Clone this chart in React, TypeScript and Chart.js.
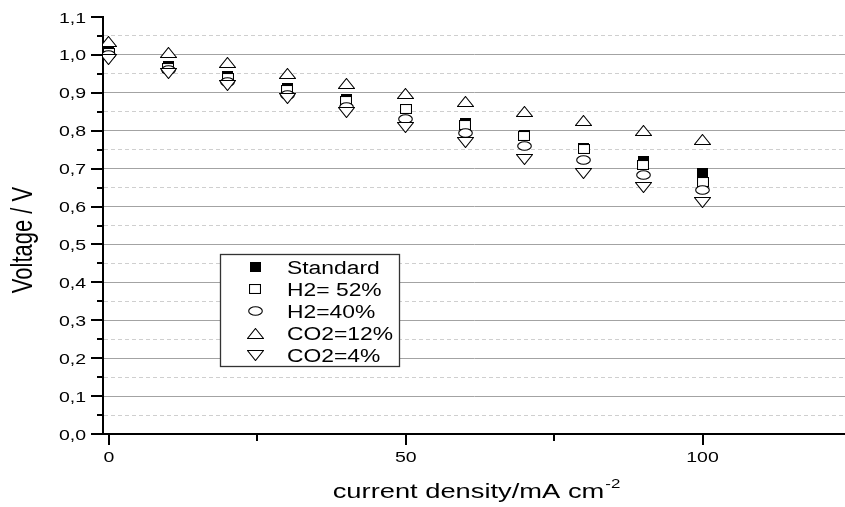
import React, { useEffect, useRef } from 'react';
import { Chart, registerables } from 'chart.js';

Chart.register(...registerables);

// ---- data ----
const X_VALUES = [0, 10, 20, 30, 40, 50, 60, 70, 80, 90, 100];
const STANDARD = [1.013, 0.970, 0.944, 0.914, 0.883, 0.857, 0.820, 0.789, 0.754, 0.720, 0.688];
const H2_52 = [1.006, 0.965, 0.938, 0.908, 0.878, 0.857, 0.815, 0.786, 0.752, 0.709, 0.666];
const H2_40 = [0.999, 0.960, 0.928, 0.895, 0.862, 0.830, 0.794, 0.760, 0.724, 0.684, 0.644];
const CO2_12 = [1.035, 1.006, 0.980, 0.952, 0.925, 0.899, 0.876, 0.850, 0.826, 0.800, 0.776];
const CO2_4 = [0.987, 0.951, 0.919, 0.885, 0.849, 0.809, 0.769, 0.725, 0.688, 0.650, 0.610];

const SERIES_LABELS = ['Standard', 'H2= 52%', 'H2=40%', 'CO2=12%', 'CO2=4%'];
const SERIES_VALUES = [STANDARD, H2_52, H2_40, CO2_12, CO2_4];
const SERIES_MARKERS = ['filledSquare', 'square', 'circle', 'triUp', 'triDown'];

const Y_TICK_LABELS = ['0,0', '0,1', '0,2', '0,3', '0,4', '0,5', '0,6', '0,7', '0,8', '0,9', '1,0', '1,1'];
const X_TICK_LABELS = ['0', '50', '100'];
const X_MINOR_TICKS = [25, 75];
const X_TITLE = 'current density/mA cm';
const X_TITLE_SUP = '-2';
const Y_TITLE = 'Voltage / V';

const FONT = '"Liberation Sans", Arial, Helvetica, sans-serif';
const SX = 1.3; // horizontal text stretch of the reference

function makeMarker(kind: string): HTMLCanvasElement {
  const c = document.createElement('canvas');
  let w = 12, h = 10;
  if (kind === 'filledSquare') { w = 11; h = 10; }
  if (kind === 'square') { w = 12; h = 10; }
  if (kind === 'circle') { w = 15; h = 10; }
  if (kind === 'triUp' || kind === 'triDown') { w = 17; h = 11; }
  c.width = w; c.height = h;
  const g = c.getContext('2d')!;
  g.lineWidth = 1.1;
  g.strokeStyle = '#000';
  g.fillStyle = '#fff';
  if (kind === 'filledSquare') {
    g.fillStyle = '#000';
    g.fillRect(0, 0, w, h);
  } else if (kind === 'square') {
    g.fillRect(0.5, 0.5, w - 1, h - 1);
    g.strokeRect(0.5, 0.5, w - 1, h - 1);
  } else if (kind === 'circle') {
    g.beginPath();
    g.ellipse(w / 2, h / 2, w / 2 - 0.7, h / 2 - 0.7, 0, 0, Math.PI * 2);
    g.fill(); g.stroke();
  } else if (kind === 'triUp') {
    g.beginPath();
    g.moveTo(w / 2, 0.5); g.lineTo(w - 0.5, h - 0.5); g.lineTo(0.5, h - 0.5); g.closePath();
    g.fill(); g.stroke();
  } else {
    g.beginPath();
    g.moveTo(0.5, 0.5); g.lineTo(w - 0.5, 0.5); g.lineTo(w / 2, h - 0.5); g.closePath();
    g.fill(); g.stroke();
  }
  return c;
}

function drawText(ctx: CanvasRenderingContext2D, text: string, x: number, y: number, size: number,
  align: CanvasTextAlign, sx: number) {
  ctx.save();
  ctx.translate(x, y);
  ctx.scale(sx, 1);
  ctx.font = `${size}px ${FONT}`;
  ctx.textAlign = align;
  ctx.textBaseline = 'alphabetic';
  ctx.fillStyle = '#000';
  ctx.fillText(text, 0, 0);
  ctx.restore();
}

const toNum = (s: string) => parseFloat(s.replace(',', '.'));

export default function App() {
  const ref = useRef<HTMLCanvasElement | null>(null);

  useEffect(() => {
    const canvas = ref.current;
    if (!canvas) return;
    const markers = SERIES_MARKERS.map(makeMarker);
    const yMajor = Y_TICK_LABELS.map(toNum);
    const yAll: number[] = [];
    yMajor.forEach((v, i) => {
      yAll.push(v);
      if (i < yMajor.length - 1) yAll.push(Math.round((v + 0.05) * 100) / 100);
    });
    const isMajor = (v: number) => Math.abs(v * 10 - Math.round(v * 10)) < 1e-6;
    const yMax = yMajor[yMajor.length - 1];

    const decor = {
      id: 'decor',
      beforeDatasetsDraw(chart: any) {
        chart.ctx.imageSmoothingEnabled = false;
      },
      afterDatasetsDraw(chart: any) {
        chart.ctx.imageSmoothingEnabled = true;
      },
      afterDraw(chart: any) {
        const { ctx, chartArea } = chart;
        const xs = chart.scales.x;
        const ys = chart.scales.y;
        const left = chartArea.left;
        const bottom = chartArea.bottom;
        ctx.save();
        ctx.strokeStyle = '#000';
        ctx.lineWidth = 2;
        // y ticks
        yAll.forEach((v) => {
          const py = Math.round(ys.getPixelForValue(v));
          const len = isMajor(v) ? 12 : 6;
          ctx.beginPath();
          ctx.moveTo(left - len, py);
          ctx.lineTo(left, py);
          ctx.stroke();
        });
        // x ticks
        X_TICK_LABELS.forEach((l) => {
          const px = Math.round(xs.getPixelForValue(toNum(l)));
          ctx.beginPath(); ctx.moveTo(px, bottom); ctx.lineTo(px, bottom + 11); ctx.stroke();
        });
        X_MINOR_TICKS.forEach((v) => {
          const px = Math.round(xs.getPixelForValue(v));
          ctx.beginPath(); ctx.moveTo(px, bottom); ctx.lineTo(px, bottom + 7); ctx.stroke();
        });
        ctx.restore();

        // tick labels
        Y_TICK_LABELS.forEach((l) => {
          const py = ys.getPixelForValue(toNum(l));
          drawText(ctx, l, left - 17, py + 5.5, 15, 'right', SX);
        });
        X_TICK_LABELS.forEach((l) => {
          const px = xs.getPixelForValue(toNum(l));
          drawText(ctx, l, px, bottom + 28, 15, 'center', SX);
        });

        // x title with superscript
        ctx.save();
        ctx.font = `21px ${FONT}`;
        const w1 = ctx.measureText(X_TITLE).width * SX;
        ctx.font = `13px ${FONT}`;
        const w2 = ctx.measureText(X_TITLE_SUP).width * SX;
        ctx.restore();
        const cx = 476;
        const startX = cx - (w1 + w2) / 2;
        drawText(ctx, X_TITLE, startX, 498, 21, 'left', SX);
        drawText(ctx, X_TITLE_SUP, startX + w1 + 1, 488, 13, 'left', SX);

        // y title rotated
        ctx.save();
        ctx.translate(32, 240);
        ctx.rotate(-Math.PI / 2);
        ctx.scale(1, 1.3);
        ctx.font = `22px ${FONT}`;
        ctx.textAlign = 'center';
        ctx.textBaseline = 'alphabetic';
        ctx.fillStyle = '#000';
        ctx.fillText(Y_TITLE, 0, 0);
        ctx.restore();

        // legend
        const bx = 220, by = 254, bw = 179, bh = 112;
        ctx.save();
        ctx.fillStyle = '#fff';
        ctx.fillRect(bx, by, bw, bh);
        ctx.strokeStyle = '#333';
        ctx.lineWidth = 1.3;
        ctx.strokeRect(bx + 0.5, by + 0.5, bw, bh);
        ctx.restore();
        SERIES_LABELS.forEach((lab, i) => {
          const cy = 267 + i * 22;
          const m = markers[i];
          ctx.drawImage(m, Math.round(255 - m.width / 2), Math.round(cy - m.height / 2));
          drawText(ctx, lab, 287, cy + 7, 18, 'left', 1.27);
        });
      },
    };

    const chart = new Chart(canvas, {
      type: 'scatter',
      data: {
        datasets: SERIES_LABELS.map((label, i) => ({
          label,
          data: X_VALUES.map((x, k) => ({ x, y: SERIES_VALUES[i][k] })),
          pointStyle: markers[i] as any,
          pointRadius: 5,
          pointHoverRadius: 5,
          showLine: false,
          order: SERIES_LABELS.length - i,
        })),
      },
      options: {
        animation: false,
        responsive: false,
        maintainAspectRatio: false,
        events: [],
        layout: { autoPadding: false, padding: { top: 17, left: 0, right: 0, bottom: 0 } },
        plugins: { legend: { display: false }, tooltip: { enabled: false } },
        scales: {
          x: {
            type: 'linear',
            min: -1,
            max: 124,
            afterFit: (s: any) => { s.height = 73; },
            ticks: { display: false },
            grid: { display: false, drawTicks: false },
            border: { display: true, color: '#000', width: 2 },
          },
          y: {
            type: 'linear',
            min: 0,
            max: yMax,
            afterFit: (s: any) => { s.width = 103; },
            afterBuildTicks: (s: any) => { s.ticks = yAll.map((v) => ({ value: v })); },
            ticks: { display: false },
            grid: {
              drawTicks: false,
              lineWidth: 1,
              color: (c: any) => {
                const v = c.tick ? c.tick.value : -1;
                if (v <= 0 || v >= yMax - 1e-6) return 'rgba(0,0,0,0)';
                return isMajor(v) ? '#a3a3a3' : '#cfcfcf';
              },
            },
            border: {
              display: true,
              color: '#000',
              width: 2,
              dash: (c: any) => {
                const v = c.tick ? c.tick.value : null;
                if (v === null || v === undefined) return [];
                return isMajor(v) ? [] : [4, 3];
              },
            } as any,
          },
        },
      },
      plugins: [decor],
    });
    return () => chart.destroy();
  }, []);

  return (
    <div style={{ position: 'fixed', left: 0, top: 0, width: 845, height: 507, background: '#fff' }}>
      <canvas ref={ref} width={845} height={507} style={{ display: 'block', width: 845, height: 507 }} />
    </div>
  );
}
